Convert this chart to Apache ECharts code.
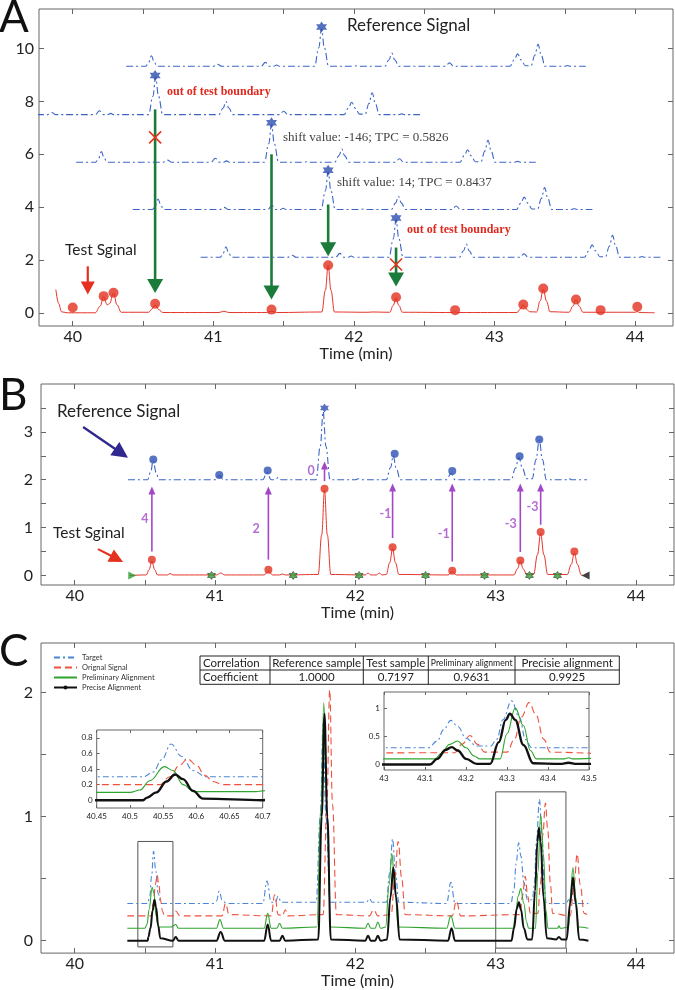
<!DOCTYPE html>
<html>
<head>
<meta charset="utf-8">
<script src="https://cdn.jsdelivr.net/npm/echarts@6/dist/echarts.min.js"></script>
<style>
  html, body { margin: 0; padding: 0; background: #fff; }
  #chart { width: 675px; height: 990px; }
</style>
</head>
<body>
<div id="chart"></div>
<script>
// ---------- data ----------
// shared time axis
const xTicks = [40, 40.5, 41, 41.5, 42, 42.5, 43, 43.5, 44];
const xLabels = [40, 41, 42, 43, 44];
const aYTicks = [0, 2, 4, 6, 8, 10];
const bYTicks = [0, 0.5, 1, 1.5, 2, 2.5, 3, 3.5];
const bYLabels = [0, 1, 2, 3];
const cYTicks = [0, 0.5, 1, 1.5, 2];
const cYLabels = [0, 1, 2];
const in1XTicks = [40.45, 40.5, 40.55, 40.6, 40.65, 40.7];
const in1YTicks = [0, 0.2, 0.4, 0.6, 0.8];
const in2XTicks = [43, 43.1, 43.2, 43.3, 43.4, 43.5];
const in2YTicks = [0, 0.5, 1];

// panel A - test signal (red)
const testA = [[39.88,0.88],[39.90,0.35],[39.92,0.04],[39.96,0],[40.16,0],[40.195,0.25],[40.22,0.62],[40.245,0.3],[40.262,0.35],
  [40.29,0.75],[40.315,0.3],[40.345,0.02],[40.54,0.02],[40.565,0.15],[40.586,0.3],[40.61,0.13],[40.64,0.01],[41.04,0.01],
  [41.075,0.06],[41.11,0.01],[41.38,0.01],[41.414,0.06],[41.45,0.01],[41.772,0.03],[41.797,0.85],[41.817,1.8],[41.837,0.85],
  [41.862,0.03],[42.1,0.02],[42.13,0.03],[42.255,0.02],[42.28,0.28],[42.30,0.57],[42.32,0.28],[42.345,0.02],[42.70,0.01],
  [42.72,0.04],[42.74,0.01],[43.16,0.01],[43.185,0.15],[43.205,0.3],[43.225,0.15],[43.25,0.04],[43.30,0.03],[43.325,0.45],
  [43.347,0.9],[43.37,0.45],[43.395,0.04],[43.53,0.02],[43.558,0.25],[43.58,0.5],[43.602,0.25],[43.63,0.02],[43.755,0.02],
  [44.0,0.02],[44.016,0.05],[44.03,0.01],[44.14,0]];
const testDotsA = [[40.0,0.2],[40.22,0.63],[40.29,0.76],[40.586,0.34],[41.414,0.12],[41.817,1.8],[42.30,0.59],[42.72,0.1],
  [43.205,0.31],[43.347,0.92],[43.58,0.5],[43.755,0.1],[44.016,0.23]];

// reference signal (baseline 0, unshifted)
const refSignal = [[40.38,0],[40.52,0],[40.54,0.15],[40.56,0.4],[40.58,0.15],[40.60,0],[41.0,0],[41.03,0.08],[41.06,0],
  [41.34,0],[41.37,0.15],[41.40,0],[41.43,0],[41.45,0.05],[41.47,0],[41.72,0],[41.75,0.7],[41.77,1.42],[41.79,0.7],[41.82,0],
  [42.0,0],[42.02,0.02],[42.04,0],[42.22,0],[42.25,0.25],[42.27,0.5],[42.29,0.25],[42.32,0],[42.65,0],[42.68,0.13],[42.71,0],
  [43.11,0],[43.14,0.24],[43.165,0.47],[43.19,0.24],[43.22,0.02],[43.26,0.02],[43.287,0.42],[43.31,0.83],[43.333,0.42],
  [43.36,0],[43.50,0],[43.52,0.03],[43.54,0],[43.65,0]];
// reference copies in panel A: [time shift, vertical offset]
const refCopiesA = [[0,9.33],[-1.18,7.5],[-0.356,5.70],[0.047,3.91],[0.53,2.10]];
const starsA = [[41.77,10.82],[40.586,8.98],[41.414,7.19],[41.817,5.40],[42.30,3.59]];
const greenArrowsA = [[40.586,7.7,40.586,0.75],[41.414,6.0,41.414,0.5],[41.817,4.1,41.817,2.14],[42.30,2.47,42.30,1.0]];
const crossesA = [[40.586,6.64],[42.30,1.83]];
const pointerA = [[40.107,1.76,40.107,0.69]];

// panel B
const refOffsetB = 2;
const testB = [[40.39,0],[40.51,0.01],[40.53,0.12],[40.55,0.3],[40.57,0.12],[40.59,0.01],[40.66,0.01],[40.68,0.04],[40.70,0.01],
  [41.01,0.01],[41.04,0.05],[41.07,0.01],[41.35,0.01],[41.38,0.09],[41.41,0.01],[41.46,0.01],[41.48,0.03],[41.50,0.01],
  [41.735,0.02],[41.76,0.85],[41.78,1.78],[41.80,0.85],[41.825,0.02],[42.07,0.01],[42.09,0.05],[42.11,0.01],[42.15,0.01],
  [42.17,0.05],[42.19,0.01],[42.22,0.02],[42.245,0.27],[42.265,0.56],[42.285,0.27],[42.31,0.02],[42.66,0.01],[42.69,0.08],
  [42.72,0.01],[43.13,0.01],[43.155,0.14],[43.175,0.3],[43.195,0.14],[43.22,0.02],[43.27,0.02],[43.297,0.43],[43.32,0.88],
  [43.343,0.43],[43.37,0.02],[43.51,0.02],[43.538,0.23],[43.56,0.47],[43.582,0.23],[43.61,0.01],[43.62,0]];
const testDotsB = [[40.55,0.33],[41.38,0.12],[41.78,1.81],[42.265,0.59],[42.69,0.1],[43.175,0.31],[43.32,0.91],[43.56,0.5]];
const refDotsB = [[40.56,2.42],[41.03,2.10],[41.375,2.19],[42.28,2.54],[42.69,2.18],[43.17,2.49],[43.31,2.84]];
const starB = [[41.78,3.50]];
const boundStarsB = [[40.975,0],[41.557,0],[42.026,0],[42.50,0],[42.92,0],[43.24,0],[43.44,0]];
const startB = [[40.41,0]];
const endB = [[43.64,0]];
const purpleArrowsB = [[40.55,0.5,40.55,1.86],[41.38,0.33,41.38,1.86],[41.78,1.97,41.78,2.38],[42.265,0.78,42.265,1.92],
  [42.69,0.29,42.69,1.92],[43.175,0.49,43.175,1.92],[43.32,1.06,43.32,1.92]];
const shiftLabelsB = [[40.50,1.18,'4'],[41.293,0.98,'2'],[41.684,2.18,'0'],[42.214,1.29,'-1'],[42.63,0.87,'-1'],
  [43.107,1.08,'-3'],[43.262,1.44,'-3']];
const navyPointerB = [[40.06,3.10,40.38,2.46]];
const redPointerB = [[40.166,0.55,40.345,0.28]];

// panel C
const cTarget = [[40.375,0.3],[40.52,0.3],[40.535,0.36],[40.548,0.52],[40.562,0.72],[40.578,0.56],[40.595,0.38],[40.615,0.3],
  [40.99,0.3],[41.01,0.32],[41.03,0.40],[41.05,0.33],[41.08,0.3],[41.34,0.3],[41.37,0.48],[41.40,0.31],[41.43,0.31],
  [41.45,0.36],[41.47,0.31],[41.72,0.31],[41.75,1.0],[41.77,1.75],[41.79,1.0],[41.82,0.31],[42.08,0.31],[42.10,0.34],
  [42.12,0.31],[42.22,0.31],[42.245,0.55],[42.265,0.82],[42.285,0.55],[42.31,0.31],[42.65,0.3],[42.68,0.47],[42.71,0.3],
  [43.108,0.3],[43.13,0.42],[43.145,0.62],[43.163,0.79],[43.18,0.68],[43.2,0.47],[43.226,0.33],[43.26,0.33],[43.275,0.45],
  [43.29,0.80],[43.311,1.14],[43.33,0.85],[43.345,0.45],[43.36,0.3],[43.5,0.3],[43.52,0.33],[43.54,0.3],[43.66,0.3]];
const cOriginal = [[40.375,0.2],[40.545,0.2],[40.56,0.3],[40.575,0.45],[40.587,0.53],[40.60,0.45],[40.613,0.32],[40.625,0.24],
  [40.64,0.2],[40.70,0.2],[40.72,0.24],[40.75,0.2],[41.05,0.2],[41.075,0.3],[41.10,0.21],[41.40,0.2],[41.425,0.37],
  [41.45,0.21],[41.48,0.2],[41.50,0.25],[41.52,0.2],[41.77,0.21],[41.797,1.1],[41.817,2.02],[41.837,1.1],[41.865,0.21],
  [42.10,0.2],[42.13,0.25],[42.16,0.2],[42.255,0.21],[42.28,0.5],[42.305,0.8],[42.33,0.5],[42.355,0.21],[42.69,0.2],
  [42.72,0.32],[42.75,0.2],[43.173,0.21],[43.19,0.36],[43.21,0.52],[43.228,0.36],[43.246,0.22],[43.30,0.22],[43.318,0.45],
  [43.335,0.85],[43.354,1.11],[43.37,0.9],[43.39,0.45],[43.405,0.22],[43.53,0.2],[43.558,0.45],[43.58,0.70],[43.602,0.45],
  [43.63,0.22],[43.65,0.21]];
const cPrelim = [[40.375,0.1],[40.50,0.1],[40.515,0.13],[40.53,0.25],[40.552,0.43],[40.565,0.38],[40.58,0.2],[40.596,0.11],
  [40.69,0.11],[40.70,0.12],[40.72,0.13],[40.74,0.1],[41.01,0.1],[41.035,0.17],[41.06,0.1],[41.35,0.1],[41.375,0.22],
  [41.40,0.1],[41.44,0.1],[41.46,0.14],[41.48,0.1],[41.725,0.11],[41.755,1.1],[41.775,1.92],[41.795,1.1],[41.825,0.11],
  [42.07,0.1],[42.09,0.14],[42.11,0.1],[42.14,0.1],[42.16,0.15],[42.18,0.1],[42.215,0.11],[42.24,0.45],[42.26,0.70],
  [42.28,0.45],[42.305,0.11],[42.65,0.1],[42.68,0.2],[42.71,0.1],[43.124,0.1],[43.14,0.2],[43.16,0.36],[43.179,0.42],
  [43.2,0.3],[43.22,0.15],[43.234,0.1],[43.283,0.1],[43.30,0.55],[43.32,1.01],[43.34,0.7],[43.357,0.25],[43.372,0.1],
  [43.44,0.1],[43.45,0.12],[43.46,0.1],[43.52,0.11],[43.53,0.35],[43.55,0.59],[43.57,0.35],[43.59,0.11],[43.66,0.1]];
const cPrecise = [[40.375,0],[40.52,0],[40.525,0.03],[40.54,0.1],[40.555,0.24],[40.568,0.33],[40.58,0.27],[40.595,0.12],
  [40.61,0.02],[40.70,0],[40.72,0.03],[40.74,0],[41.01,0],[41.04,0.07],[41.07,0],[41.35,0],[41.375,0.13],[41.40,0],
  [41.46,0],[41.48,0.04],[41.50,0],[41.735,0.01],[41.76,1.0],[41.78,1.83],[41.80,1.0],[41.825,0.01],[42.07,0],[42.09,0.04],
  [42.11,0],[42.14,0],[42.16,0.04],[42.18,0],[42.225,0.01],[42.25,0.35],[42.27,0.59],[42.29,0.35],[42.315,0.01],[42.66,0],
  [42.685,0.1],[42.71,0],[43.112,0],[43.13,0.1],[43.15,0.26],[43.165,0.31],[43.18,0.25],[43.2,0.1],[43.226,0.01],
  [43.259,0.01],[43.28,0.4],[43.297,0.8],[43.307,0.91],[43.32,0.8],[43.34,0.35],[43.364,0.02],[43.43,0.01],[43.45,0.03],
  [43.47,0.01],[43.505,0.01],[43.53,0.3],[43.55,0.51],[43.57,0.3],[43.595,0.01],[43.66,0]];
const zoomBoxes = [[40.45,0.8,40.7,-0.05],[43.0,1.2,43.5,-0.06]];

const seriesNames = ['Target', 'Orignal Signal', 'Preliminary Alignment', 'Precise Alignment'];
const tableHeader = ['Correlation', 'Reference sample', 'Test sample', 'Preliminary alignment', 'Precisie alignment'];
const tableRow = ['Coefficient', '1.0000', '0.7197', '0.9631', '0.9925'];

// ---------- styles ----------
const FONT = 'Lato, "Noto Sans", sans-serif';
const SERIF = '"Liberation Serif", "DejaVu Serif", serif';
const AX = '#666';
const BLUE_REF = '#3c64c8';
const STAR_BLUE = '#2a4caf';
const RED = '#e5352a';
const GREEN_ARROW = '#1b7b3b';
const PURPLE = '#a347c8';
const HEX = 'path://M0,-10 L2.89,-5 L8.66,-5 L5.77,0 L8.66,5 L2.89,5 L0,10 L-2.89,5 L-8.66,5 L-5.77,0 L-8.66,-5 L-2.89,-5 Z';
const TRI_RIGHT = 'path://M0,0 L10,5 L0,10 Z';
const TRI_LEFT = 'path://M10,0 L0,5 L10,10 Z';
const XMIN = 39.76, XMAX = 44.27;

function tickStyle(len, ticks) {
  return { show: true, inside: true, length: len, customValues: ticks, lineStyle: { color: AX, width: 1 } };
}
const noLine = { show: false, onZero: false };
function xBottom(g, min, max, ticks, labels, fs, len, margin, name, nameGap) {
  return {
    type: 'value', gridIndex: g, position: 'bottom', min, max,
    axisLine: noLine, splitLine: { show: false },
    axisTick: tickStyle(len, ticks),
    axisLabel: { customValues: labels, fontSize: fs, color: '#222', fontFamily: FONT, margin },
    name: name || '', nameLocation: 'middle', nameGap: nameGap || 0,
    nameTextStyle: { fontSize: 16, color: '#222', fontFamily: FONT }
  };
}
function xTop(g, min, max, ticks, len) {
  return { type: 'value', gridIndex: g, position: 'top', min, max, axisLine: noLine,
    splitLine: { show: false }, axisTick: tickStyle(len, ticks), axisLabel: { show: false } };
}
function yLeft(g, min, max, ticks, labels, fs, len, margin) {
  return { type: 'value', gridIndex: g, position: 'left', min, max, axisLine: noLine,
    splitLine: { show: false }, axisTick: tickStyle(len, ticks),
    axisLabel: { customValues: labels, fontSize: fs, color: '#222', fontFamily: FONT, margin } };
}
function yRight(g, min, max, ticks, len) {
  return { type: 'value', gridIndex: g, position: 'right', min, max, axisLine: noLine,
    splitLine: { show: false }, axisTick: tickStyle(len, ticks), axisLabel: { show: false } };
}

// arrow drawn from [x0,y0] to tip [x1,y1]
function arrowSeries(axis, data, color, lw, headLen, headW, z) {
  return {
    type: 'custom', xAxisIndex: axis, yAxisIndex: axis, silent: true, z: z || 5,
    encode: { x: [0, 2], y: [1, 3] },
    data,
    renderItem(params, api) {
      const p0 = api.coord([api.value(0), api.value(1)]);
      const p1 = api.coord([api.value(2), api.value(3)]);
      const dx = p1[0] - p0[0], dy = p1[1] - p0[1];
      const len = Math.hypot(dx, dy) || 1;
      const ux = dx / len, uy = dy / len;
      const bx = p1[0] - ux * headLen, by = p1[1] - uy * headLen;
      const px = -uy * headW / 2, py = ux * headW / 2;
      return {
        type: 'group', children: [
          { type: 'line', shape: { x1: p0[0], y1: p0[1], x2: bx + ux, y2: by + uy }, style: { stroke: color, lineWidth: lw } },
          { type: 'polygon', shape: { points: [[p1[0], p1[1]], [bx + px, by + py], [bx - px, by - py]] }, style: { fill: color } }
        ]
      };
    }
  };
}

function crossSeries(axis, data, color, size) {
  return {
    type: 'custom', xAxisIndex: axis, yAxisIndex: axis, silent: true, z: 6, data,
    renderItem(params, api) {
      const p = api.coord([api.value(0), api.value(1)]);
      const h = size / 2;
      const st = { stroke: color, lineWidth: 1.6 };
      return { type: 'group', children: [
        { type: 'line', shape: { x1: p[0] - h, y1: p[1] - h, x2: p[0] + h, y2: p[1] + h }, style: st },
        { type: 'line', shape: { x1: p[0] - h, y1: p[1] + h, x2: p[0] + h, y2: p[1] - h }, style: st }
      ] };
    }
  };
}

function lineSeries(axis, data, color, width, type, extra) {
  return Object.assign({
    type: 'line', xAxisIndex: axis, yAxisIndex: axis, data, smooth: 0.4, smoothMonotone: 'x',
    showSymbol: false, symbol: 'none', silent: true, clip: true, animation: false,
    lineStyle: { color, width, type: type || 'solid' }
  }, extra || {});
}
function dotSeries(axis, data, symbol, size, color, extra) {
  return Object.assign({
    type: 'scatter', xAxisIndex: axis, yAxisIndex: axis, data, symbol, symbolSize: size,
    itemStyle: { color }, silent: true, z: 4, animation: false
  }, extra || {});
}

const series = [];
// ---- panel A ----
refCopiesA.forEach(([shift, off]) => {
  series.push(lineSeries(0, refSignal.map(([t, v]) => [t + shift, v + off]), BLUE_REF, 1.1, [7, 3, 2, 3]));
});
series.push(lineSeries(0, testA, RED, 1, 'solid'));
series.push(dotSeries(0, testDotsA, 'circle', 10, '#e2311f'));
series.push(dotSeries(0, starsA, HEX, 11, STAR_BLUE));
series.push(arrowSeries(0, greenArrowsA, GREEN_ARROW, 2.6, 14, 16));
series.push(arrowSeries(0, pointerA, '#e5301f', 2.2, 13, 14));
series.push(crossSeries(0, crossesA, '#e8321e', 12));

// ---- panel B ----
series.push(lineSeries(2, refSignal.map(([t, v]) => [t, v + refOffsetB]), BLUE_REF, 1.1, [7, 3, 2, 3]));
series.push(lineSeries(2, testB, RED, 1, 'solid'));
series.push(arrowSeries(2, purpleArrowsB, PURPLE, 1.6, 8, 7));
series.push(dotSeries(2, testDotsB, 'circle', 8, '#e2311f'));
series.push(dotSeries(2, refDotsB, 'circle', 8, '#2d51b5'));
series.push(dotSeries(2, starB, HEX, 9, STAR_BLUE));
series.push(dotSeries(2, boundStarsB, HEX, 8, '#2f9e2f', { itemStyle: { color: '#2f9e2f', borderColor: '#111', borderWidth: 0.6 } }));
series.push(dotSeries(2, startB, TRI_RIGHT, 8, '#2f9e2f'));
series.push(dotSeries(2, endB, TRI_LEFT, 8, '#111'));
series.push(dotSeries(2, shiftLabelsB, 'circle', 1, 'rgba(0,0,0,0)', {
  label: { show: true, position: 'inside', formatter: p => p.data[2], color: PURPLE, fontWeight: 'bold',
    fontSize: 12.5, fontFamily: FONT }
}));
series.push(arrowSeries(2, navyPointerB, '#30288f', 2.4, 16, 16));
series.push(arrowSeries(2, redPointerB, '#e5301f', 2.2, 14, 14));

// ---- panel C (main + two zoom insets share the same curves) ----
const cStyles = [
  [cTarget, '#4a86d8', 1.1, [6, 3, 2, 3]],
  [cOriginal, '#f0503c', 1.1, [7, 4]],
  [cPrelim, '#2ea32e', 1.1, 'solid'],
  [cPrecise, '#111', 2.0, 'solid']
];
[4, 6, 8].forEach(axis => {
  cStyles.forEach(([data, color, w, type], i) => {
    const extra = { name: seriesNames[i] };
    if (i === 3) {
      extra.symbol = 'circle';
      extra.symbolSize = 3;
      extra.itemStyle = { color: '#111' };
      extra.lineStyle = { color, width: axis === 4 ? 2.0 : 2.4, type };
    }
    series.push(lineSeries(axis, data, color, w, type, extra));
  });
});
series.push({
  type: 'custom', xAxisIndex: 4, yAxisIndex: 4, silent: true, z: 3, data: zoomBoxes,
  encode: { x: [0, 2], y: [1, 3] },
  renderItem(params, api) {
    const a = api.coord([api.value(0), api.value(1)]);
    const b = api.coord([api.value(2), api.value(3)]);
    return { type: 'rect', shape: { x: a[0], y: a[1], width: b[0] - a[0], height: b[1] - a[1] },
      style: { fill: 'none', stroke: '#555', lineWidth: 1 } };
  }
});

// table (header row + value row)
const colEdges = [200, 270, 363.3, 428.3, 515, 619.3];
const rowEdges = [656, 670, 684.3];
const tableGraphics = [];
tableGraphics.push({ type: 'rect', shape: { x: colEdges[0], y: rowEdges[0], width: colEdges[5] - colEdges[0], height: rowEdges[2] - rowEdges[0] },
  style: { fill: '#fff', stroke: '#222', lineWidth: 1 }, z: 100 });
tableGraphics.push({ type: 'line', shape: { x1: colEdges[0], y1: rowEdges[1], x2: colEdges[5], y2: rowEdges[1] },
  style: { stroke: '#222', lineWidth: 1 }, z: 101 });
for (let c = 1; c < 5; c++) {
  tableGraphics.push({ type: 'line', shape: { x1: colEdges[c], y1: rowEdges[0], x2: colEdges[c], y2: rowEdges[2] },
    style: { stroke: '#222', lineWidth: 1 }, z: 101 });
}
[tableHeader, tableRow].forEach((row, r) => {
  row.forEach((txt, c) => {
    const small = (r === 0 && c === 3);
    tableGraphics.push({
      type: 'text', z: 102,
      x: c === 0 ? colEdges[0] + 3 : (colEdges[c] + colEdges[c + 1]) / 2,
      y: (rowEdges[r] + rowEdges[r + 1]) / 2 + 0.5,
      style: { text: txt, fill: '#222', font: (small ? '8.6px ' : '11.5px ') + FONT,
        align: c === 0 ? 'left' : 'center', verticalAlign: 'middle' }
    });
  });
});

function txt(x, y, text, font, fill) {
  return { type: 'text', x, y, z: 100, style: { text, font, fill, verticalAlign: 'middle' } };
}

const option = {
  animation: false,
  backgroundColor: '#fff',
  grid: [
    { left: 39, top: 9, width: 634, height: 317, show: true, borderColor: AX, borderWidth: 1, backgroundColor: '#fff' },
    { left: 41, top: 384, width: 633, height: 201, show: true, borderColor: AX, borderWidth: 1, backgroundColor: '#fff' },
    { left: 41, top: 643, width: 633, height: 317, show: true, borderColor: AX, borderWidth: 1, backgroundColor: '#fff' },
    { left: 96.7, top: 730, width: 166, height: 78, show: true, borderColor: AX, borderWidth: 1, backgroundColor: '#fff' },
    { left: 384, top: 692, width: 205, height: 78, show: true, borderColor: AX, borderWidth: 1, backgroundColor: '#fff' }
  ],
  xAxis: [
    xBottom(0, XMIN, XMAX, xTicks, xLabels, 16, 5, 3, 'Time (min)', 17),
    xTop(0, XMIN, XMAX, xTicks, 5),
    xBottom(1, XMIN, XMAX, xTicks, xLabels, 16, 5, 3, 'Time (min)', 15),
    xTop(1, XMIN, XMAX, xTicks, 5),
    xBottom(2, XMIN, XMAX, xTicks, xLabels, 16, 5, 3, 'Time (min)', 15),
    xTop(2, XMIN, XMAX, xTicks, 5),
    xBottom(3, 40.45, 40.7, in1XTicks, in1XTicks, 8, 3, 4),
    xTop(3, 40.45, 40.7, in1XTicks, 3),
    xBottom(4, 43, 43.5, in2XTicks, in2XTicks, 8, 3, 4),
    xTop(4, 43, 43.5, in2XTicks, 3)
  ],
  yAxis: [
    yLeft(0, -0.5, 11.5, aYTicks, aYTicks, 16, 5, 5),
    yRight(0, -0.5, 11.5, aYTicks, 5),
    yLeft(1, -0.2, 4.0, bYTicks, bYLabels, 16, 5, 8),
    yRight(1, -0.2, 4.0, bYTicks, 5),
    yLeft(2, -0.1, 2.4, cYTicks, cYLabels, 16, 5, 8),
    yRight(2, -0.1, 2.4, cYTicks, 5),
    yLeft(3, -0.1, 0.9, in1YTicks, in1YTicks, 8, 3, 4),
    yRight(3, -0.1, 0.9, in1YTicks, 3),
    yLeft(4, -0.1, 1.3, in2YTicks, in2YTicks, 8, 3, 4),
    yRight(4, -0.1, 1.3, in2YTicks, 3)
  ],
  legend: {
    data: [
      { name: seriesNames[0], itemStyle: { opacity: 0 } },
      { name: seriesNames[1], itemStyle: { opacity: 0 } },
      { name: seriesNames[2], itemStyle: { opacity: 0 } },
      { name: seriesNames[3] }
    ],
    orient: 'vertical', left: 53, top: 653, padding: 0,
    itemWidth: 23, itemHeight: 5, itemGap: 1,
    selectedMode: false,
    textStyle: { fontSize: 7.5, color: '#333', fontFamily: FONT, lineHeight: 9 }
  },
  graphic: [
    txt(-1, 18, 'A', '44px ' + FONT, '#111'),
    txt(-1, 396, 'B', '44px ' + FONT, '#111'),
    txt(-1, 652, 'C', '44px ' + FONT, '#111'),
    txt(347, 26, 'Reference Signal', '17px ' + FONT, '#222'),
    txt(167, 92, 'out of test boundary', 'bold 12px ' + SERIF, '#e0281e'),
    txt(283, 138, 'shift value: -146; TPC = 0.5826', '13px ' + SERIF, '#444'),
    txt(337, 183, 'shift value: 14; TPC = 0.8437', '13px ' + SERIF, '#444'),
    txt(407, 230, 'out of test boundary', 'bold 12px ' + SERIF, '#e0281e'),
    txt(65, 250, 'Test Sginal', '15.5px ' + FONT, '#222'),
    txt(57, 412, 'Reference Signal', '17px ' + FONT, '#222'),
    txt(53, 533, 'Test Sginal', '15.5px ' + FONT, '#222')
  ].concat(tableGraphics),
  series
};

const chart = echarts.init(document.getElementById('chart'), null, { renderer: 'canvas' });
chart.setOption(option);
</script>
</body>
</html>
